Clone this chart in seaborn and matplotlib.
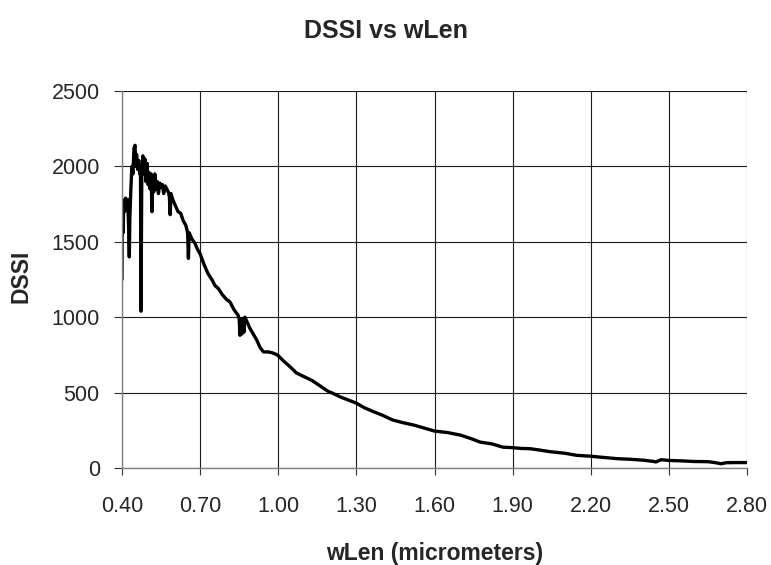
import matplotlib
matplotlib.use("Agg")
import matplotlib.pyplot as plt
import seaborn as sns
import pandas as pd
from matplotlib.ticker import FormatStrFormatter

wlen = [0.400, 0.401, 0.404, 0.407, 0.410, 0.414, 0.418, 0.422, 0.426, 0.428,
        0.430, 0.434, 0.438, 0.442, 0.446, 0.450, 0.453, 0.456, 0.460, 0.464,
        0.468, 0.471, 0.473, 0.476, 0.480, 0.484, 0.488, 0.492, 0.496, 0.500,
        0.504, 0.508, 0.512, 0.515, 0.518, 0.522, 0.526, 0.530, 0.535, 0.540,
        0.545, 0.550, 0.555, 0.560, 0.566, 0.572, 0.578, 0.582, 0.585, 0.588,
        0.595, 0.605, 0.615, 0.625, 0.635, 0.645, 0.652, 0.655, 0.658, 0.668,
        0.680, 0.690, 0.700, 0.715, 0.730, 0.745, 0.757, 0.770, 0.785, 0.800,
        0.815, 0.830, 0.845, 0.850, 0.853, 0.857, 0.861, 0.864, 0.868, 0.872,
        0.880, 0.890, 0.900, 0.917, 0.930, 0.943, 0.960, 0.975, 0.990, 1.000,
        1.020, 1.045, 1.070, 1.100, 1.130, 1.160, 1.190, 1.210, 1.240, 1.270,
        1.300, 1.330, 1.364, 1.400, 1.440, 1.480, 1.520, 1.560, 1.600, 1.650,
        1.700, 1.740, 1.775, 1.820, 1.863, 1.900, 1.930, 1.967, 2.000, 2.044,
        2.100, 2.146, 2.200, 2.250, 2.300, 2.350, 2.400, 2.440, 2.450, 2.470,
        2.500, 2.550, 2.600, 2.650, 2.680, 2.700, 2.720, 2.750, 2.800]
dssi = [1250, 1780, 1560, 1760, 1700, 1790, 1720, 1780, 1560, 1400,
        1650, 1850, 2000, 1950, 2120, 2140, 2000, 2080, 1980, 2040,
        1950, 2000, 1040, 1960, 2070, 1950, 2050, 1900, 2020, 1880,
        1960, 1850, 1950, 1700, 1900, 1830, 1950, 1850, 1900, 1820,
        1890, 1860, 1880, 1820, 1870, 1850, 1830, 1800, 1680, 1820,
        1780, 1740, 1700, 1690, 1640, 1610, 1560, 1390, 1560, 1520,
        1490, 1450, 1420, 1350, 1290, 1250, 1210, 1190, 1150, 1120,
        1100, 1050, 1015, 990, 880, 980, 890, 990, 900, 1000,
        970, 930, 900, 850, 800, 770, 770, 765, 755, 745,
        710, 672, 630, 605, 580, 545, 510, 495, 470, 450,
        430, 400, 375, 350, 318, 300, 285, 265, 245, 235,
        218, 195, 172, 160, 138, 135, 130, 128, 120, 108,
        98, 84, 78, 70, 62, 58, 52, 44, 40, 55,
        50, 47, 43, 42, 35, 28, 35, 36, 36]

x_ticks = [0.40, 0.70, 1.00, 1.30, 1.60, 1.90, 2.20, 2.50, 2.80]
y_ticks = [0, 500, 1000, 1500, 2000, 2500]

title = "DSSI vs wLen"
x_label = "wLen (micrometers)"
y_label = "DSSI"

sns.set_style("white")
plt.rcParams["font.family"] = ["Liberation Sans", "DejaVu Sans"]

W, H = 771, 565
fig = plt.figure(figsize=(W / 100, H / 100), dpi=100)
fig.patch.set_facecolor("white")
ax = fig.add_axes([122 / W, 1 - 468 / H, (747 - 122) / W, (468 - 91) / H])

df = pd.DataFrame({"wLen": wlen, "DSSI": dssi})
sns.lineplot(data=df, x="wLen", y="DSSI", ax=ax, color="black", linewidth=2.4,
             estimator=None, sort=False)

ax.set_xlim(0.40, 2.80)
ax.set_ylim(0, 2500)
ax.set_xticks(x_ticks)
ax.set_yticks(y_ticks)
ax.xaxis.set_major_formatter(FormatStrFormatter("%.2f"))
ax.grid(True, color="#1a1a1a", linewidth=0.8)
ax.set_axisbelow(True)
ax.set_xlabel("")
ax.set_ylabel("")

for side in ["top", "right"]:
    ax.spines[side].set_visible(False)
for side in ["left", "bottom"]:
    ax.spines[side].set_color("#808080")
    ax.spines[side].set_linewidth(1.0)

ax.tick_params(axis="x", direction="out", length=5, width=0.8, color="#333333",
               labelsize=15.5, pad=15, bottom=True)
ax.tick_params(axis="y", direction="out", length=6, width=0.8, color="#333333",
               labelsize=15.5, pad=10, left=True)

fig.text(0.5, 1 - 38 / H, title, ha="center", va="baseline",
         fontsize=18, fontweight="bold")
fig.text(434.5 / W, 1 - 560 / H, x_label, ha="center", va="baseline",
         fontsize=16.5, fontweight="bold")
fig.text(21 / W, 1 - 276 / H, y_label, ha="center", va="center",
         rotation=90, fontsize=16.5, fontweight="bold")

fig.savefig("out.png", dpi=100, facecolor="white")
